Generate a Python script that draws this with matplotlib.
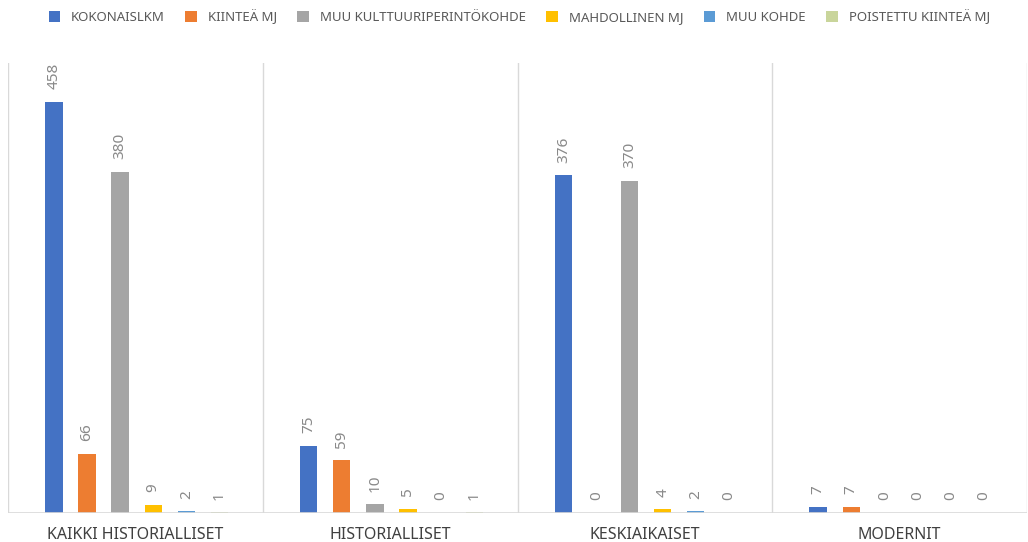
import matplotlib
matplotlib.use("Agg")
import matplotlib.pyplot as plt
import numpy as np

plt.rcParams['font.family'] = ['Noto Sans', 'DejaVu Sans']

categories = ["KAIKKI HISTORIALLISET", "HISTORIALLISET", "KESKIAIKAISET", "MODERNIT"]
series_names = ["KOKONAISLKM", "KIINTEÄ MJ", "MUU KULTTUURIPERINTÖKOHDE",
                "MAHDOLLINEN MJ", "MUU KOHDE", "POISTETTU KIINTEÄ MJ"]
kokonaislkm = [458, 75, 376, 7]
kiintea_mj = [66, 59, 0, 7]
muu_kulttuuri = [380, 10, 370, 0]
mahdollinen_mj = [9, 5, 4, 0]
muu_kohde = [2, 0, 2, 0]
poistettu = [1, 1, 0, 0]
series_values = [kokonaislkm, kiintea_mj, muu_kulttuuri, mahdollinen_mj, muu_kohde, poistettu]
colors = ["#4472C4", "#ED7D31", "#A5A5A5", "#FFC000", "#5B9BD5", "#C9D59B"]

fig = plt.figure(figsize=(10.28, 5.42), dpi=100)
ax = fig.add_axes([8/1028, 1 - 513/542, 1019/1028, 450/542])

n = len(series_names)
slot = 0.13
width = 0.068
x = np.arange(len(categories))
for i, (name, vals, c) in enumerate(zip(series_names, series_values, colors)):
    pos = x + (i - (n - 1) / 2) * slot + 0.005
    bars = ax.bar(pos, vals, width=width, color=c, label=name, zorder=3)
    for b, v in zip(bars, vals):
        ax.annotate(str(v), (b.get_x() + b.get_width() / 2, v),
                    xytext=(0, 9), textcoords="offset points",
                    rotation=90, ha="center", va="bottom",
                    fontsize=11, color="#898989")

ax.set_xlim(-0.5, len(categories) - 0.5)
ax.set_ylim(0, 501)
for b in np.arange(-0.5, len(categories), 1.0):
    ax.axvline(b, color="#d9d9d9", lw=1, zorder=1)
for s in ax.spines.values():
    s.set_visible(False)
ax.axhline(0, color="#d9d9d9", lw=1.2, zorder=4)
ax.set_yticks([])
ax.set_xticks(x)
ax.set_xticklabels(categories, fontsize=11.5, color="#404040")
ax.tick_params(axis="x", length=0, pad=10)

handles, labels = ax.get_legend_handles_labels()
fig.legend(handles, labels, loc="center", bbox_to_anchor=(0.505, 1 - 17/542),
           ncol=6, frameon=False, fontsize=9.5, labelcolor="#595959",
           handlelength=0.9, handleheight=0.9, handletextpad=0.8, columnspacing=1.55)

fig.savefig("out.png", dpi=100)
